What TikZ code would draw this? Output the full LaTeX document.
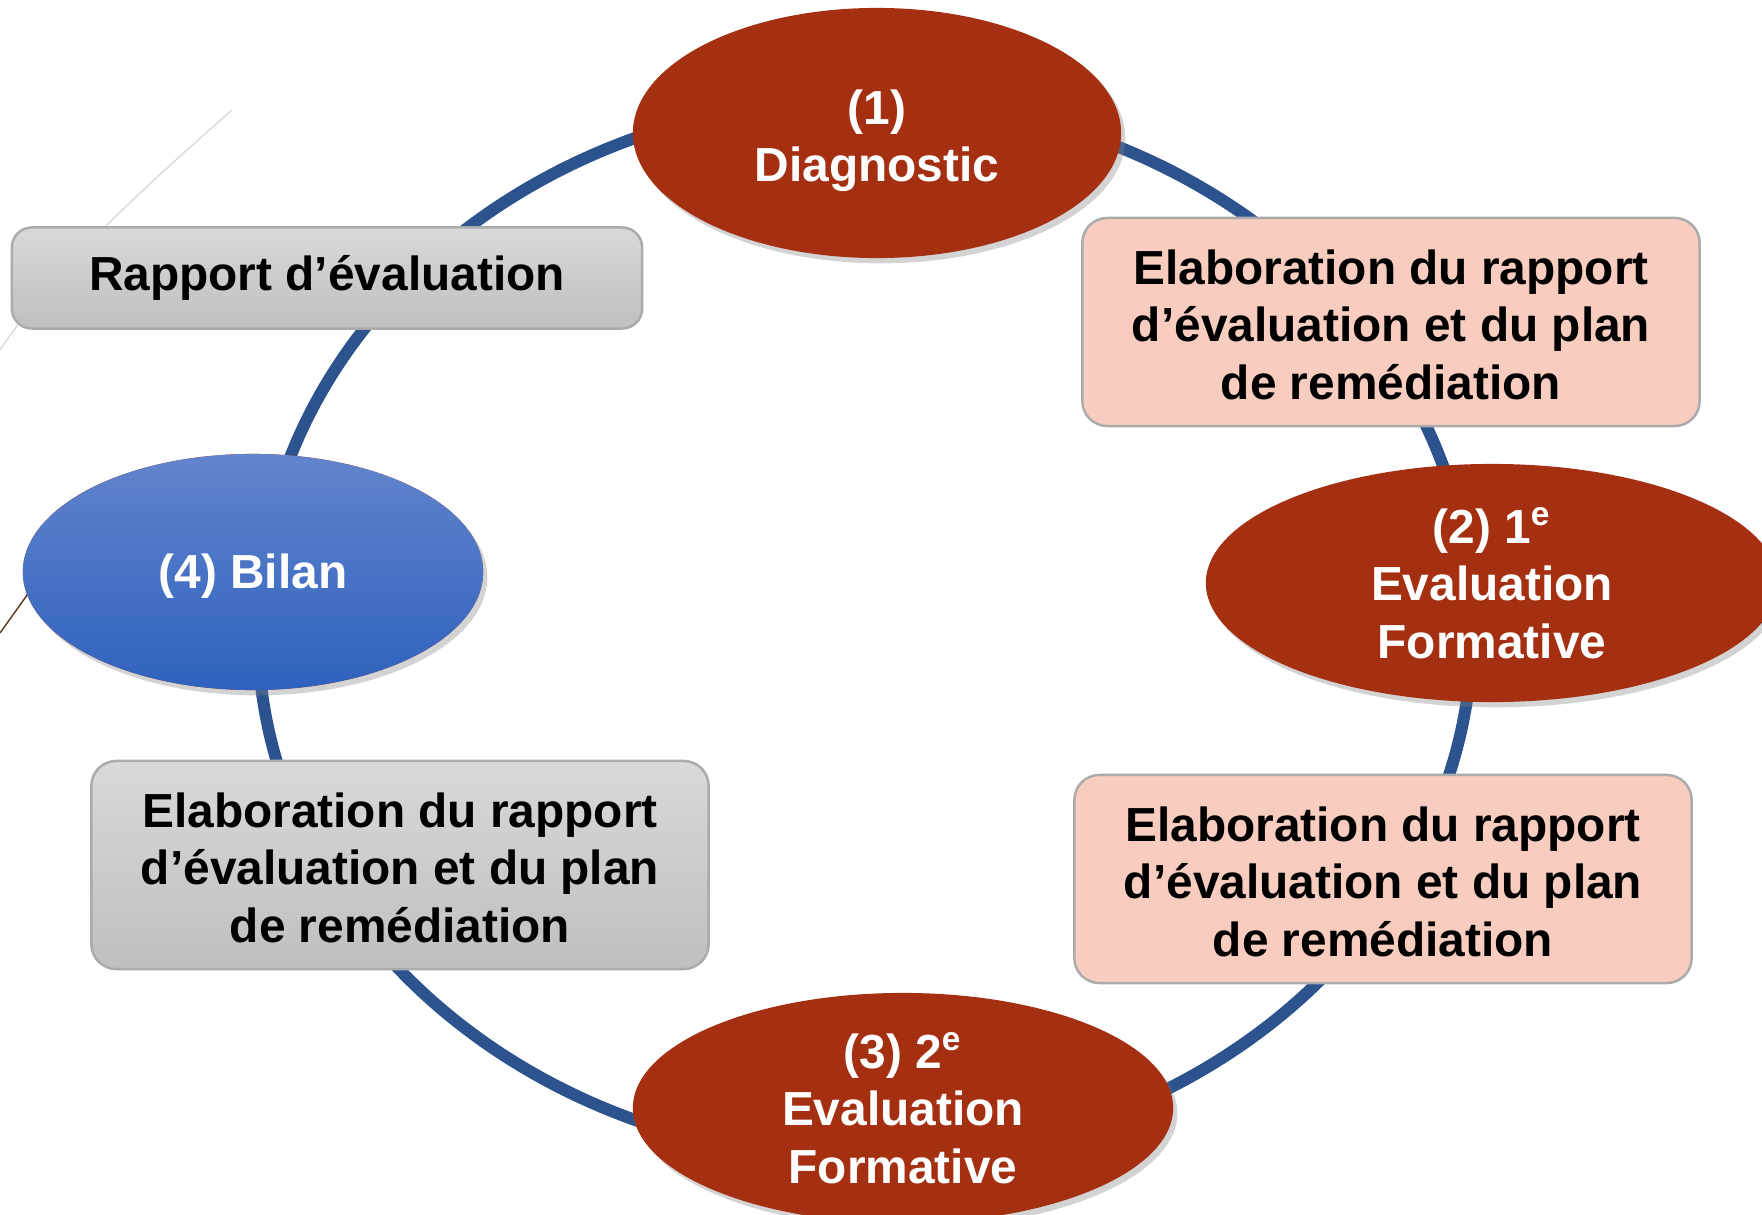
\documentclass[tikz,border=0pt]{standalone}
\usepackage{fontspec}
\setmainfont{Liberation Sans}
\usetikzlibrary{shapes.geometric,shadows}
\definecolor{brique}{RGB}{165,48,17}
\definecolor{anneau}{RGB}{45,83,143}
\definecolor{saumon}{RGB}{248,204,191}
\definecolor{bleuhaut}{RGB}{98,132,204}
\definecolor{bleubas}{RGB}{47,98,190}
\begin{document}
\begin{tikzpicture}[x=0.01cm, y=-0.01cm,
  txt/.style={font=\fontsize{13.6}{16.3}\selectfont\bfseries, align=center},
  oval/.style={txt, ellipse, inner sep=-0.3cm, text=white, fill=brique, drop shadow={opacity=0.35, shadow xshift=1.2pt, shadow yshift=-1.5pt}},
  box/.style={txt, rectangle, rounded corners=0.25cm, draw=black!33, line width=0.7pt, minimum width=6.17cm, minimum height=2.08cm},
  rose/.style={box, fill=saumon},
  gris/.style={box, top color=black!15, bottom color=black!25}]
\useasboundingbox (0,0) rectangle (1762,1215);
\draw[black!15] (232,110) .. controls (170,165) and (60,260) .. (0,350);
\draw[black!55!brown] (0,633) -- (45,570);
\draw[anneau, line width=0.12cm] (865,629) ellipse [x radius=6.07cm, y radius=5.30cm];

\node[gris, minimum width=6.30cm, minimum height=1.01cm, rounded corners=0.2cm] (rapport) at (327,278) {Rapport d’évaluation};
\node[rose] (plan1) at (1391,322) {\rule{0pt}{11.5pt}Elaboration du rapport\\d’évaluation et du plan\\de remédiation};
\node[rose] (plan2) at (1383,879) {\rule{0pt}{11.5pt}Elaboration du rapport\\d’évaluation et du plan\\de remédiation};
\node[gris] (plan3) at (400,865) {\rule{0pt}{11.5pt}Elaboration du rapport\\d’évaluation et du plan\\de remédiation};

\node[oval, minimum width=4.88cm, minimum height=2.50cm] (diag) at (877,133) {\rule{0pt}{14.4pt}(1)\\Diagnostic};
\node[oval, minimum width=5.72cm, minimum height=2.38cm] (eval1) at (1492,583) {(2) 1\textsuperscript{e}\\Evaluation\\Formative};
\node[oval, minimum width=5.40cm, minimum height=2.30cm] (eval2) at (903,1108) {(3) 2\textsuperscript{e}\\Evaluation\\Formative};
\node[oval, top color=bleuhaut, bottom color=bleubas, minimum width=4.60cm, minimum height=2.36cm] (bilan) at (253,572) {\rule{0pt}{12.4pt}(4) Bilan};
\end{tikzpicture}
\end{document}
